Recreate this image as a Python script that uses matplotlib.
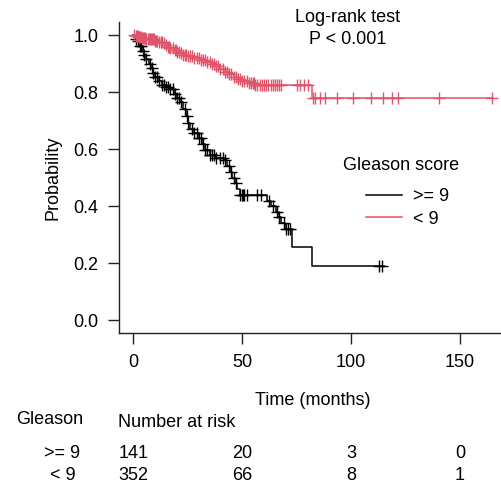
import numpy as np
import matplotlib
matplotlib.use("Agg")
import matplotlib.pyplot as plt
import matplotlib.transforms as mtransforms
from matplotlib.lines import Line2D

plt.rcParams["font.family"] = ["Liberation Sans", "DejaVu Sans"]

# Dados

# Gleason >= 9: tempos dos eventos e sobrevida apos cada evento
alto_t = [0, 0.5, 1.0, 2.0, 2.5, 3.0, 4.0, 5.0, 6.0, 7.0, 8.0, 9.0, 10.0, 11.5, 13.0,
          15.0, 17.0, 18.5, 20.0, 21.5, 23.0, 24.0, 25.0, 26.0, 28.0, 30.0, 31.5, 33.0,
          35.0, 38.0, 41.5, 43.0, 44.5, 45.5, 46.5, 47.5, 49.0, 61.5, 63.0, 65.5, 66.5,
          68.0, 69.5, 73.0, 82.0, 115.0]
alto_s = [1.0, 0.993, 0.986, 0.979, 0.972, 0.962, 0.945, 0.930, 0.915, 0.898, 0.883,
          0.868, 0.854, 0.840, 0.826, 0.818, 0.810, 0.795, 0.780, 0.765, 0.742, 0.715,
          0.690, 0.672, 0.658, 0.640, 0.618, 0.596, 0.580, 0.570, 0.560, 0.540, 0.520,
          0.500, 0.480, 0.460, 0.439, 0.418, 0.400, 0.380, 0.360, 0.340, 0.320, 0.256,
          0.190, 0.190]
alto_cens = [1, 2, 3, 3.5, 4.5, 5, 6, 7.5, 8.5, 9, 10, 11, 12, 13, 14, 15, 16, 17, 18,
             19, 20, 21, 22, 23.5, 24.5, 25, 27, 28, 29, 30, 31, 32, 33, 34, 35, 36, 37,
             38, 40, 41, 42, 44, 45, 46, 47, 49, 50, 50.5, 51, 52, 57, 58.5, 62.5, 64,
             66, 67, 69, 70, 71, 72, 113, 114]

# Gleason < 9
baixo_t = [0, 1.0, 2.5, 4.0, 6.0, 8.0, 10.0, 12.0, 13.5, 15.0, 16.0, 17.0, 18.5, 20.0,
           21.5, 23.0, 25.0, 28.0, 31.0, 34.0, 36.0, 38.0, 40.0, 42.0, 44.0, 46.0, 48.0,
           50.0, 53.0, 56.0, 82.0, 165.0]
baixo_s = [1.0, 0.997, 0.994, 0.991, 0.988, 0.985, 0.981, 0.977, 0.972, 0.966, 0.960,
           0.954, 0.948, 0.942, 0.936, 0.930, 0.925, 0.920, 0.914, 0.907, 0.899, 0.890,
           0.881, 0.872, 0.862, 0.853, 0.845, 0.838, 0.831, 0.825, 0.780, 0.780]
baixo_cens = [0.5, 1, 1.5, 2, 2.5, 3, 3.5, 4, 4.5, 5, 5.5, 6, 6.5, 7, 7.5, 8, 8.5, 9, 9.5,
              10, 10.5, 11, 12, 12.5, 13, 14, 15, 16, 16.5, 17, 18, 19, 19.5, 20, 21, 22,
              23, 23.5, 24, 25, 26, 27, 28, 29, 30, 31, 32, 33, 34, 35, 36, 37, 38, 39,
              40, 41, 42, 43, 44, 45, 46, 47, 48, 49, 50, 51, 52, 53, 54, 55, 55.5, 56,
              57, 58, 59, 60, 61, 62, 63, 64, 65, 66, 67, 68, 75, 76.5, 78.5, 80, 82.5,
              83.5, 85.5, 88, 93.5, 101, 109, 114.5, 119, 121.5, 140.5, 164.5]

tempos_risco = [0, 50, 100, 150]
risco_alto = [141, 20, 3, 0]
risco_baixo = [352, 66, 8, 1]

PRETO = "black"
VERMELHO = "#DF536B"

W, H = 502, 486


def fx(px):
    return px / W


def fy(py):
    return 1 - py / H


def surv_em(t_ev, s_ev, tempos):
    idx = np.searchsorted(t_ev, tempos, side="right") - 1
    return np.asarray(s_ev)[idx]


fig = plt.figure(figsize=(W / 100, H / 100), dpi=100)
ax = fig.add_axes([fx(119), fy(333), fx(507) - fx(119), fy(22) - fy(333)])

for t_ev, s_ev, cens, cor in [(alto_t, alto_s, alto_cens, PRETO),
                              (baixo_t, baixo_s, baixo_cens, VERMELHO)]:
    ax.step(t_ev, s_ev, where="post", color=cor, lw=1.1)
    ax.plot(cens, surv_em(t_ev, s_ev, cens), ls="none", marker="+",
            ms=8.5, mew=1.0, color=cor)

ax.set_xlim(-6.6, 171.6)
ax.set_ylim(-0.0456, 1.046)
ax.set_xticks([0, 50, 100, 150])
ax.set_yticks([0.0, 0.2, 0.4, 0.6, 0.8, 1.0])
ax.set_yticklabels(["0.0", "0.2", "0.4", "0.6", "0.8", "1.0"])
ax.spines[["top", "right"]].set_visible(False)
for s in ("left", "bottom"):
    ax.spines[s].set_linewidth(1.0)
    ax.spines[s].set_color("#222")
ax.tick_params(axis="both", labelsize=13, length=8, width=1.0, color="#222", pad=7)
ax.set_ylabel("Probability", fontsize=13, labelpad=8)

fig.text(fx(313), fy(400), "Time (months)", fontsize=13, ha="center", va="center")
fig.text(fx(348), fy(17), "Log-rank test", fontsize=13, ha="center", va="center")
fig.text(fx(348), fy(40), "P < 0.001", fontsize=13, ha="center", va="center")

# Legenda
fig.text(fx(343), fy(165), "Gleason score", fontsize=13, ha="left", va="center")
handles = [Line2D([], [], color=PRETO, lw=1.1), Line2D([], [], color=VERMELHO, lw=1.1)]
ax.legend(handles, [">= 9", "< 9"], frameon=False, fontsize=13,
          loc="upper left", bbox_to_anchor=(fx(359), fy(181)),
          bbox_transform=fig.transFigure, handlelength=2.0, handletextpad=0.6,
          labelspacing=0.3, borderaxespad=0)

# Tabela de numero em risco
trans = mtransforms.blended_transform_factory(ax.transData, fig.transFigure)
fig.text(fx(16), fy(420), "Gleason", fontsize=13, ha="left", va="center")
fig.text(fx(118), fy(422), "Number at risk", fontsize=13, ha="left", va="center")
fig.text(fx(80), fy(453), ">= 9", fontsize=13, ha="right", va="center")
fig.text(fx(76), fy(475), "< 9", fontsize=13, ha="right", va="center")
for t, a, b in zip(tempos_risco, risco_alto, risco_baixo):
    ax.text(t, fy(453), str(a), transform=trans, fontsize=13, ha="center", va="center",
            clip_on=False)
    ax.text(t, fy(475), str(b), transform=trans, fontsize=13, ha="center", va="center",
            clip_on=False)

fig.savefig("out.png", dpi=100)
